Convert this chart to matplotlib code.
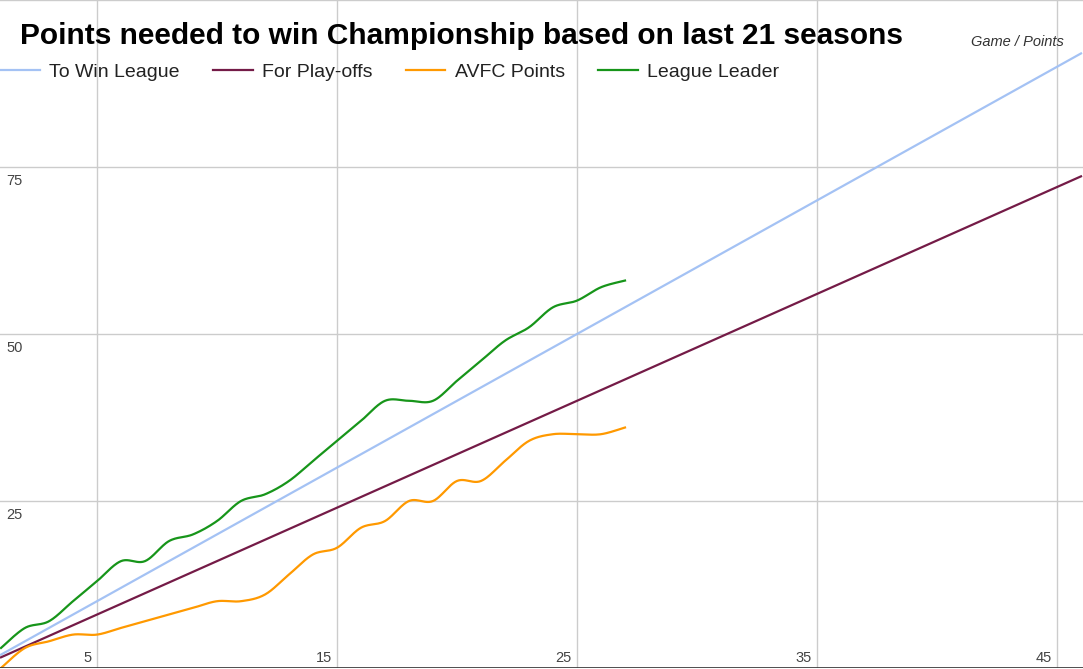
import numpy as np
import matplotlib
matplotlib.use("Agg")
import matplotlib.pyplot as plt
from matplotlib.transforms import blended_transform_factory, ScaledTranslation

# ---------------- data ----------------
games_all = list(range(1, 47))
to_win_league = [2, 4, 6, 8, 10, 12, 14, 16, 18, 20, 22, 24, 26, 28, 30, 32, 34, 36,
                 38, 40, 42, 44, 46, 48, 50, 52, 54, 56, 58, 60, 62, 64, 66, 68, 70,
                 72, 74, 76, 78, 80, 82, 84, 86, 88, 90, 92]
for_playoffs = [1.6, 3.2, 4.8, 6.4, 8.0, 9.6, 11.2, 12.8, 14.4, 16.0, 17.6, 19.2, 20.8,
                22.4, 24.0, 25.6, 27.2, 28.8, 30.4, 32.0, 33.6, 35.2, 36.8, 38.4, 40.0,
                41.6, 43.2, 44.8, 46.4, 48.0, 49.6, 51.2, 52.8, 54.4, 56.0, 57.6, 59.2,
                60.8, 62.4, 64.0, 65.6, 67.2, 68.8, 70.4, 72.0, 73.6]
games_played = list(range(1, 28))
avfc_points = [0, 3, 4, 5, 5, 6, 7, 8, 9, 10, 10, 11, 14, 17, 18, 21, 22, 25, 25, 28,
               28, 31, 34, 35, 35, 35, 36]
league_leader = [3, 6, 7, 10, 13, 16, 16, 19, 20, 22, 25, 26, 28, 31, 34, 37, 40, 40,
                 40, 43, 46, 49, 51, 54, 55, 57, 58]

series_names = ["To Win League", "For Play-offs", "AVFC Points", "League Leader"]
series_colors = ["#a4c2f4", "#741b47", "#ff9900", "#17951a"]

x_ticks = [5, 15, 25, 35, 45]
y_grid = [0, 25, 50, 75, 100]
y_labels = [25, 50, 75]

title = "Points needed to win Championship based on last 21 seasons"
axis_note = "Game / Points"


def smooth(x, y, n=24):
    """Catmull-Rom rendering of a curve through the data points."""
    x = np.asarray(x, float)
    y = np.asarray(y, float)
    px = np.concatenate([[x[0]], x, [x[-1]]])
    py = np.concatenate([[y[0]], y, [y[-1]]])
    xs, ys = [], []
    t = np.linspace(0, 1, n, endpoint=False)
    for i in range(1, len(px) - 2):
        p0x, p1x, p2x, p3x = px[i - 1], px[i], px[i + 1], px[i + 2]
        p0y, p1y, p2y, p3y = py[i - 1], py[i], py[i + 1], py[i + 2]
        m1x, m2x = (p2x - p0x) / 2, (p3x - p1x) / 2
        m1y, m2y = (p2y - p0y) / 2, (p3y - p1y) / 2
        h00 = 2 * t**3 - 3 * t**2 + 1
        h10 = t**3 - 2 * t**2 + t
        h01 = -2 * t**3 + 3 * t**2
        h11 = t**3 - t**2
        xs.append(h00 * p1x + h10 * m1x + h01 * p2x + h11 * m2x)
        ys.append(h00 * p1y + h10 * m1y + h01 * p2y + h11 * m2y)
    xs.append([x[-1]])
    ys.append([y[-1]])
    return np.concatenate(xs), np.concatenate(ys)


plt.rcParams["font.family"] = ["Liberation Sans", "DejaVu Sans"]

W, H = 1083, 669
fig = plt.figure(figsize=(W / 100, H / 100), dpi=100)
fig.patch.set_facecolor("white")
ax = fig.add_axes([0, 1 / H, 1, 668 / H])
ax.set_facecolor("white")

ax.set_xlim(1 - 1 / 24, 1 + 1082 / 24)
ax.set_ylim(0, 100)

for s in ax.spines.values():
    s.set_visible(False)
ax.set_xticks(x_ticks)
ax.set_yticks(y_grid)
ax.tick_params(length=0, labelleft=False, labelbottom=False)
ax.grid(True, color="#cccccc", lw=1)
ax.set_axisbelow(True)
ax.axhline(0, color="#333333", lw=1.2, zorder=5)

lw = 1.6
h1, = ax.plot(games_all, to_win_league, color=series_colors[0], lw=lw, label=series_names[0])
h2, = ax.plot(games_all, for_playoffs, color=series_colors[1], lw=lw, label=series_names[1])
sx, sy = smooth(games_played, avfc_points)
h3, = ax.plot(sx, sy, color=series_colors[2], lw=lw, label=series_names[2])
sx, sy = smooth(games_played, league_leader)
h4, = ax.plot(sx, sy, color=series_colors[3], lw=lw, label=series_names[3])

# tick labels (inside plot area, Google-chart style)
tr_y = blended_transform_factory(ax.transAxes, ax.transData)
for v in y_labels:
    ax.text(6 / W, v, str(v),
            transform=tr_y + ScaledTranslation(0, -18 / 100, fig.dpi_scale_trans),
            ha="left", va="baseline", fontsize=10.5, color="#444444")
tr_x = blended_transform_factory(ax.transData, ax.transAxes)
for v in x_ticks:
    ax.text(v, 0, str(v),
            transform=tr_x + ScaledTranslation(-5 / 100, 6 / 100, fig.dpi_scale_trans),
            ha="right", va="baseline", fontsize=10.5, color="#444444")

fig.text(20 / W, 1 - 44.5 / H, title, fontsize=21.5, fontweight="bold", ha="left",
         va="baseline", color="black")
fig.text(1064 / W, 1 - 46.5 / H, axis_note, fontsize=10.5, style="italic", ha="right",
         va="baseline", color="#333333")

leg = fig.legend(handles=[h1, h2, h3, h4], loc="center left",
                 bbox_to_anchor=(0, 1 - 72 / H), ncol=4, frameon=False, fontsize=14,
                 handlelength=2.05, handletextpad=0.48, columnspacing=1.7,
                 borderpad=0, borderaxespad=0)
for t in leg.get_texts():
    t.set_color("#222222")

fig.savefig("out.png", dpi=100, facecolor="white")
